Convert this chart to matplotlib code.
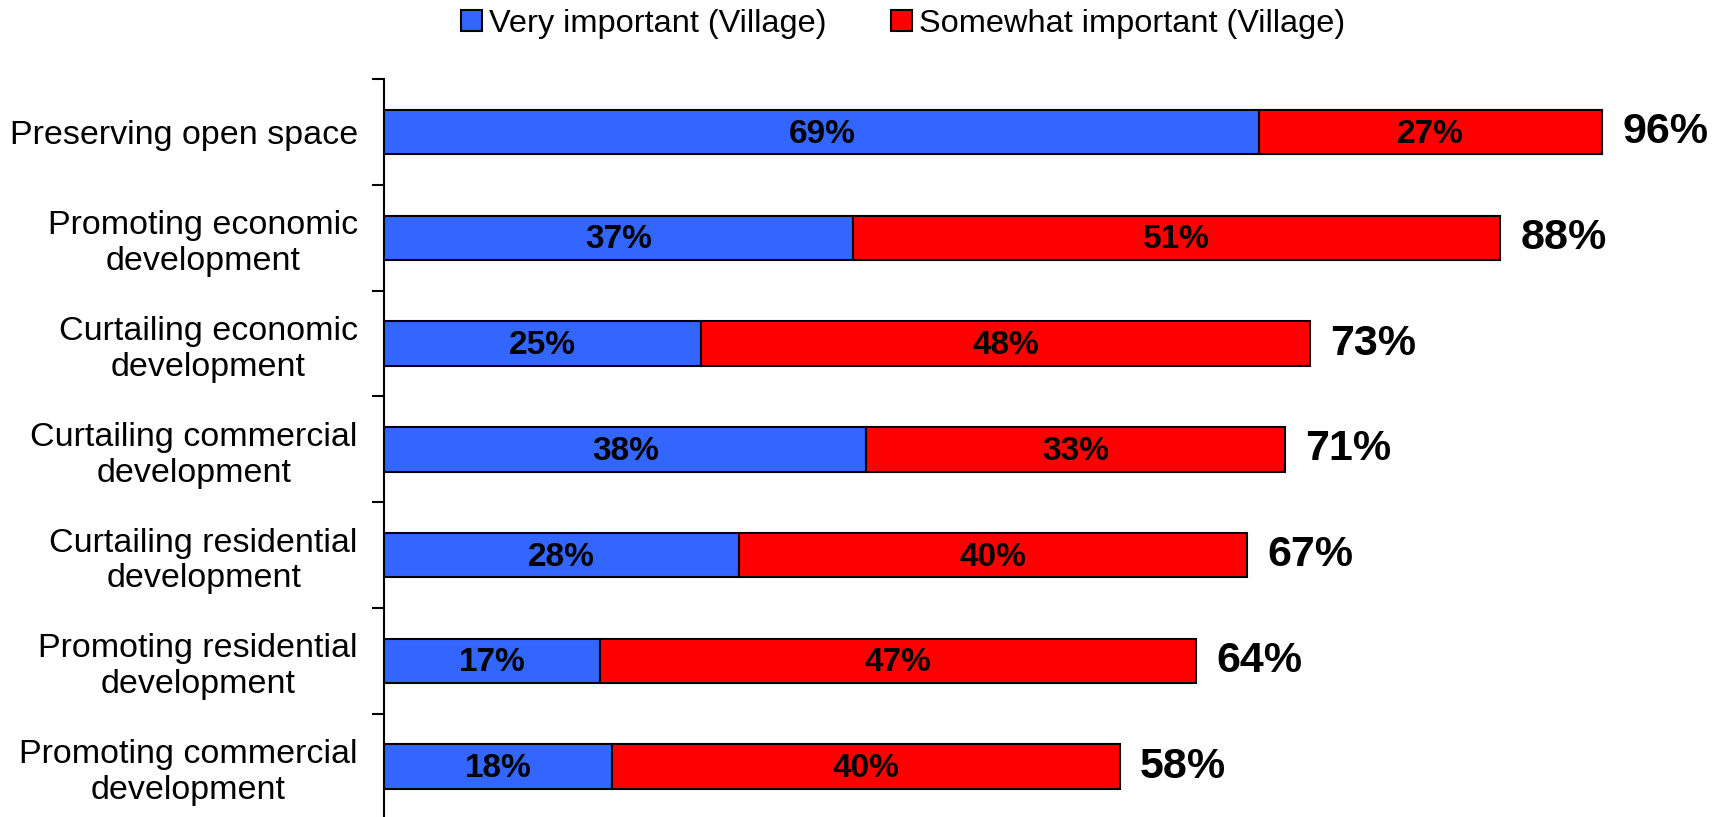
import matplotlib.pyplot as plt
import numpy as np

plt.rcParams['font.family'] = ['Liberation Sans', 'DejaVu Sans']

categories = ["Preserving open space",
              "Promoting economic\ndevelopment",
              "Curtailing economic\ndevelopment",
              "Curtailing commercial\ndevelopment",
              "Curtailing residential\ndevelopment",
              "Promoting residential\ndevelopment",
              "Promoting commercial\ndevelopment"]
very = [69, 37, 25, 38, 28, 17, 18]
somewhat = [27, 51, 48, 33, 40, 47, 40]
totals = [96, 88, 73, 71, 67, 64, 58]

blue = "#3366FF"
red = "#FF0000"

fig = plt.figure(figsize=(17.23, 8.17), dpi=100)
ax = fig.add_axes([0.223, -0.003, 0.736, 0.906])

y = np.arange(len(categories))
h = 0.42
b1 = ax.barh(y, very, height=h, color=blue, edgecolor="black", linewidth=1.5,
             label="Very important (Village)")
b2 = ax.barh(y, somewhat, left=very, height=h, color=red, edgecolor="black",
             linewidth=1.5, label="Somewhat important (Village)")

for i in range(len(categories)):
    ax.text(very[i] / 2, y[i] + 0.02, "%d%%" % very[i], ha="center", va="center",
            fontsize=24, fontweight="bold")
    ax.text(very[i] + somewhat[i] / 2, y[i] + 0.02, "%d%%" % somewhat[i],
            ha="center", va="center", fontsize=24, fontweight="bold")
    ax.text(very[i] + somewhat[i] + 5.0, y[i], "%d%%" % totals[i], ha="center",
            va="center", fontsize=31, fontweight="bold")

ax.set_xlim(0, 100)
ax.set_ylim(len(categories) - 0.5, -0.5)
ax.set_yticks(y)
ax.set_yticklabels(categories, fontsize=24.5, linespacing=1.2)
for lab in ax.get_yticklabels():
    lab.set_multialignment("center")
ax.tick_params(axis="y", which="major", length=0, pad=19)
ax.set_yticks(np.arange(-0.5, len(categories)), minor=True)
ax.tick_params(axis="y", which="minor", length=8.6, width=1.5, direction="out")
ax.set_xticks([])
for s in ["top", "right", "bottom"]:
    ax.spines[s].set_visible(False)
ax.spines["left"].set_linewidth(1.5)

fig.legend(handles=[b1, b2], loc="upper center", bbox_to_anchor=(0.524, 1.025),
           ncol=2, frameon=False, fontsize=23.4, handlelength=0.65,
           handleheight=0.65, handletextpad=0.2, columnspacing=2.0)

fig.savefig("out.png", dpi=100)
